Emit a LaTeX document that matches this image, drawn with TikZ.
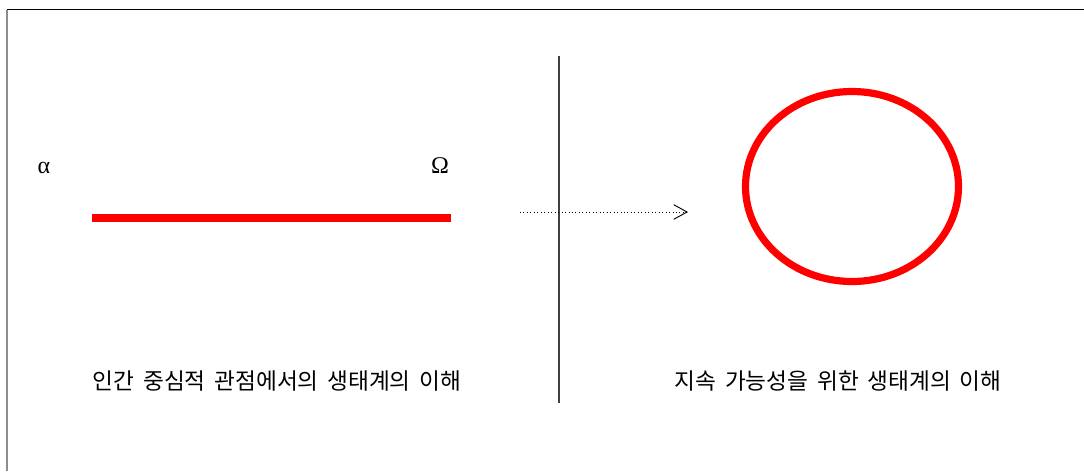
\documentclass[tikz,border=0pt]{standalone}
\usepackage{fontspec}
\setmainfont{Liberation Serif}
\newfontfamily\kofont{Noto Sans CJK KR}
\usetikzlibrary{arrows.meta}
\tikzset{
	caption/.style={
		font={\kofont\fontsize{17pt}{20pt}\selectfont\spaceskip=0.38em}, inner sep=0pt
	},
	greek/.style={
		font={\fontsize{18pt}{20pt}\selectfont}, inner sep=0pt
	},
	redline/.style={draw=red, line width=5.4pt},
	>=stealth,
}
\begin{document}
\begin{tikzpicture}[x=0.75pt, y=-0.75pt]
\useasboundingbox (0,0) rectangle (1084,471);
% frame
\coordinate (frameL) at (7,471);
\coordinate (frameT) at (7,9.5);
\coordinate (frameR) at (1084,9.5);
\draw [line width=1.1pt] (frameT) -- (frameR);
\draw [line width=1.5pt, color=black!45] (frameT) -- (frameL);
% left part
\node [greek] (alpha) at (44,168) {α};
\node [greek] (omega) at (440,166) {Ω};
\coordinate (lineA) at (92,218);
\coordinate (lineB) at (451,218);
\draw [redline] (lineA) -- (lineB);
\node [caption] (leftcap) at (277,381) {인간 중심적 관점에서의 생태계의 이해};
% divider and arrow
\coordinate (divT) at (559,56);
\coordinate (divB) at (559,403);
\draw [line width=0.9pt, color=black!75] (divT) -- (divB);
\coordinate (arrS) at (520,212);
\coordinate (arrE) at (688,212);
\draw [dotted, line width=0.6pt, -{Straight Barb[length=10pt, width=11pt, line width=0.7pt]}] (arrS) -- (arrE);
% right part
\coordinate (circC) at (852,186.5);
\draw [redline] (circC) ellipse [x radius=106.5, y radius=95];
\node [caption] (rightcap) at (838,381) {지속 가능성을 위한 생태계의 이해};
\end{tikzpicture}
\end{document}
